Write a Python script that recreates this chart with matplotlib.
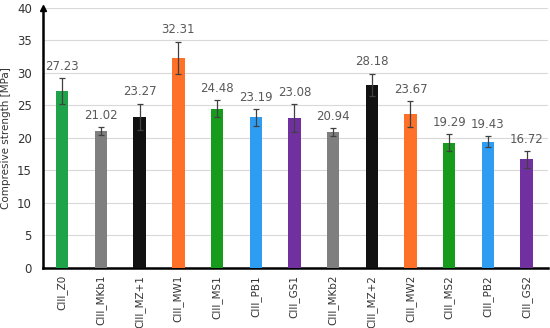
import matplotlib
matplotlib.use("Agg")
import matplotlib.pyplot as plt

categories = ["CIII_Z0", "CIII_MKb1", "CIII_MZ+1", "CIII_MW1", "CIII_MS1", "CIII_PB1",
              "CIII_GS1", "CIII_MKb2", "CIII_MZ+2", "CIII_MW2", "CIII_MS2", "CIII_PB2", "CIII_GS2"]
values = [27.23, 21.02, 23.27, 32.31, 24.48, 23.19, 23.08, 20.94, 28.18, 23.67, 19.29, 19.43, 16.72]
errors = [2.0, 0.6, 2.0, 2.5, 1.3, 1.3, 2.1, 0.6, 1.7, 2.0, 1.3, 0.8, 1.3]
colors = ["#1fa34a", "#7f7f7f", "#111111", "#ff7128", "#179b1c", "#2e9cf0",
          "#7030a0", "#7f7f7f", "#111111", "#ff7128", "#179b1c", "#2e9cf0", "#7030a0"]

fig = plt.figure(figsize=(5.5, 3.28), dpi=100)
ax = fig.add_axes([0.078, 0.183, 0.918, 0.793])

x = list(range(len(categories)))
ax.bar(x, values, width=0.32, color=colors, zorder=3,
       yerr=errors, error_kw=dict(ecolor="#404040", elinewidth=0.9, capsize=2.5, capthick=0.9, zorder=4))

for xi, v, e in zip(x, values, errors):
    ax.text(xi, v + e + 0.8, f"{v:.2f}", ha="center", va="bottom", fontsize=8.5, color="#595959")

ax.set_xlim(-0.5, 12.55)
ax.set_ylim(0, 40)
ax.set_yticks(range(0, 41, 5))
ax.set_xticks(x)
ax.set_xticklabels(categories, rotation=90, fontsize=7.5, color="#333333")
ax.tick_params(axis="y", labelsize=8.5, colors="#333333", length=0, pad=8)
ax.tick_params(axis="x", length=0, pad=5)
ax.yaxis.grid(True, color="#d9d9d9", linewidth=0.8, zorder=0)
ax.set_axisbelow(True)
for s in ["top", "right"]:
    ax.spines[s].set_visible(False)
ax.spines["left"].set_linewidth(1.8)
ax.spines["bottom"].set_linewidth(1.8)
ax.plot(0, 1, "^k", markersize=5, transform=ax.transAxes, clip_on=False, zorder=5)
ax.set_ylabel("Compresive strength [MPa]", fontsize=7.5, color="#333333", labelpad=4)

fig.savefig("out.png", dpi=100)
